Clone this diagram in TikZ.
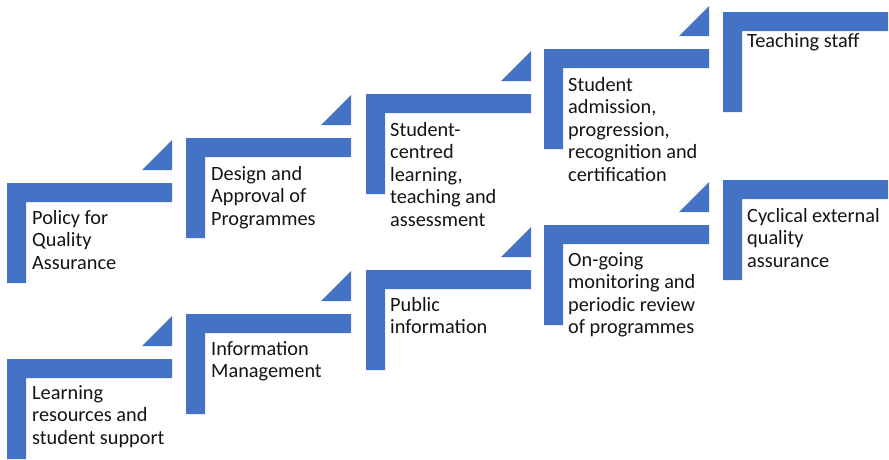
\documentclass[tikz,border=0pt]{standalone}
\usepackage{fontspec}
\setmainfont{Carlito}
\definecolor{stepblue}{RGB}{68,114,196}
\definecolor{labelink}{RGB}{20,20,20}
\tikzset{
  x=1pt, y=-1pt,
  % L-shaped step: top bar and left post, origin at the top-left corner
  stepup/.pic={
    \fill[stepblue] (0,0) -- (165,0) -- (165,19) -- (19,19) -- (19,100) -- (0,100) -- cycle;
  },
  % small right-angled riser sitting above the right end of a step
  riser/.pic={
    \fill[stepblue] (135,-13) -- (165,-13) -- (165,-43) -- cycle;
  },
  % labels are placed by the baseline of their last line
  steplabel/.style={anchor=base west, align=left, inner sep=0pt,
    text=labelink, font=\fontsize{20.3}{22.5}\selectfont},
}
\begin{document}
\begin{tikzpicture}
\useasboundingbox (0,0) rectangle (889,459);

% upper staircase
\pic at (7,183)   {stepup};  \pic at (7,183)   {riser};
\pic at (186,138) {stepup};  \pic at (186,138) {riser};
\pic at (366,94)  {stepup};  \pic at (366,94)  {riser};
\pic at (544,49)  {stepup};  \pic at (544,49)  {riser};
\pic at (723,12)  {stepup};

% lower staircase
\pic at (7,359)   {stepup};  \pic at (7,359)   {riser};
\pic at (186,314) {stepup};  \pic at (186,314) {riser};
\pic at (366,270) {stepup};  \pic at (366,270) {riser};
\pic at (544,225) {stepup};  \pic at (544,225) {riser};
\pic at (723,180) {stepup};

% labels of the upper staircase
\node[steplabel] (policy)    at (32,269)   {Policy for\\Quality\\Assurance};
\node[steplabel] (design)    at (211,225)  {Design and\\Approval of\\Programmes};
\node[steplabel] (centred)   at (390,226)  {Student-\\centred\\learning,\\teaching and\\assessment};
\node[steplabel] (admission) at (568,181)  {Student\\admission,\\progression,\\recognition and\\certification};
\node[steplabel] (staff)     at (747,47)   {Teaching staff};

% labels of the lower staircase
\node[steplabel] (resources) at (32,444)   {Learning\\resources and\\student support};
\node[steplabel] (infomgmt)  at (211,377.5) {Information\\Management};
\node[steplabel] (public)    at (390,333.5) {Public\\information};
\node[steplabel] (review)    at (568,333.5) {On-going\\monitoring and\\periodic review\\of programmes};
\node[steplabel] (external)  at (747,267)  {Cyclical external\\quality\\assurance};
\end{tikzpicture}
\end{document}
